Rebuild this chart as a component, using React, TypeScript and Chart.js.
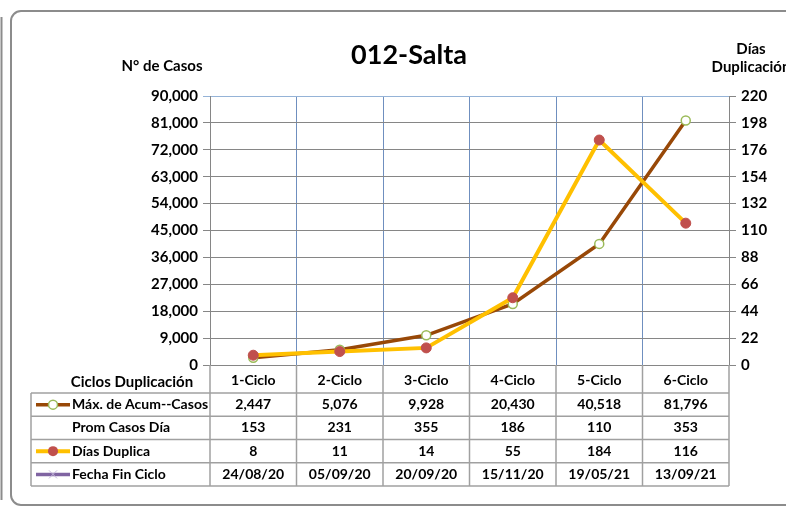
import React, { useEffect, useRef } from "react";
import { Chart, registerables } from "chart.js";

Chart.register(...registerables);

const title = "012-Salta";
const leftAxisTitle = "N° de Casos";
const rightAxisTitle = ["Días", "Duplicación"];
const tableHeader = "Ciclos Duplicación";

const categories = ["1-Ciclo", "2-Ciclo", "3-Ciclo", "4-Ciclo", "5-Ciclo", "6-Ciclo"];
const maxAcumCasos = [2447, 5076, 9928, 20430, 40518, 81796];
const promCasosDia = [153, 231, 355, 186, 110, 353];
const diasDuplica = [8, 11, 14, 55, 184, 116];
const fechaFinCiclo = ["24/08/20", "05/09/20", "20/09/20", "15/11/20", "19/05/21", "13/09/21"];

const seriesNames = ["Máx. de Acum--Casos", "Prom Casos Día", "Días Duplica", "Fecha Fin Ciclo"];

const leftMax = 90000;
const leftStep = 9000;
const rightMax = 220;
const rightStep = 22;

const FONT = "Lato, 'Open Sans', sans-serif";

const fmt = (v: number) => v.toLocaleString("en-US");

const decorPlugin = {
  id: "decor",
  beforeDraw(chart: any) {
    const ctx = chart.ctx;
    ctx.save();
    ctx.fillStyle = "#ffffff";
    ctx.fillRect(0, 0, chart.width, chart.height);
    // outer frame
    ctx.strokeStyle = "#8c8c8c";
    ctx.lineWidth = 2;
    ctx.beginPath();
    ctx.roundRect(11, 11, 800, 494, 10);
    ctx.stroke();
    ctx.beginPath();
    ctx.moveTo(1.5, 17);
    ctx.lineTo(1.5, 500);
    ctx.stroke();
    ctx.restore();
  },
  afterDraw(chart: any) {
    const ctx = chart.ctx;
    const xs = chart.scales.x;
    const area = chart.chartArea;
    ctx.save();
    // titles
    ctx.fillStyle = "#000";
    ctx.textAlign = "center";
    ctx.textBaseline = "middle";
    ctx.font = `bold 27px ${FONT}`;
    ctx.fillText(title, 409, 55);
    ctx.font = `bold 15px ${FONT}`;
    ctx.fillText(leftAxisTitle, 162, 66);
    ctx.fillText(rightAxisTitle[0], 751, 49);
    ctx.fillText(rightAxisTitle[1], 751, 67);

    // table
    const n = categories.length;
    const colW = (area.right - area.left) / n;
    const bottom = area.bottom;
    const rowTop = 393;
    const rowH = 23.25;
    const tableLeft = 31;
    const rows = [
      maxAcumCasos.map(fmt),
      promCasosDia.map(fmt),
      diasDuplica.map(fmt),
      fechaFinCiclo,
    ];

    ctx.strokeStyle = "#a0a0a0";
    ctx.lineWidth = 1.5;
    for (let r = 0; r <= rows.length; r++) {
      const y = rowTop + r * rowH;
      ctx.beginPath();
      ctx.moveTo(tableLeft, y);
      ctx.lineTo(area.right, y);
      ctx.stroke();
    }
    ctx.beginPath();
    ctx.moveTo(tableLeft, rowTop);
    ctx.lineTo(tableLeft, rowTop + rows.length * rowH);
    ctx.stroke();
    for (let i = 0; i <= n; i++) {
      const x = xs.getPixelForValue(Math.min(i, n - 1)) + (i === n ? colW / 2 : -colW / 2);
      ctx.beginPath();
      ctx.moveTo(x, bottom);
      ctx.lineTo(x, rowTop + rows.length * rowH);
      ctx.stroke();
    }

    // header row
    ctx.fillStyle = "#000";
    ctx.font = `bold 14px ${FONT}`;
    ctx.textAlign = "center";
    categories.forEach((c, i) => {
      ctx.fillText(c, xs.getPixelForValue(i), 380);
    });
    ctx.font = `bold 15px ${FONT}`;
    ctx.fillText(tableHeader, 132, 382);

    // rows
    ctx.font = `bold 14px ${FONT}`;
    rows.forEach((vals, r) => {
      const cy = rowTop + r * rowH + rowH / 2;
      ctx.textAlign = "left";
      ctx.fillStyle = "#000";
      ctx.fillText(seriesNames[r], 72, cy);
      ctx.textAlign = "center";
      vals.forEach((v, i) => ctx.fillText(String(v), xs.getPixelForValue(i), cy));
    });

    // legend keys
    const key = (r: number, color: string, width: number) => {
      const cy = rowTop + r * rowH + rowH / 2;
      ctx.strokeStyle = color;
      ctx.lineWidth = width;
      ctx.beginPath();
      ctx.moveTo(36, cy);
      ctx.lineTo(70, cy);
      ctx.stroke();
      return cy;
    };
    let cy = key(0, "#984807", 3.5);
    ctx.beginPath();
    ctx.arc(53, cy, 4.5, 0, Math.PI * 2);
    ctx.fillStyle = "#fff";
    ctx.fill();
    ctx.strokeStyle = "#9BBB59";
    ctx.lineWidth = 1.5;
    ctx.stroke();
    cy = key(2, "#FFC000", 4);
    ctx.beginPath();
    ctx.arc(53, cy, 5, 0, Math.PI * 2);
    ctx.fillStyle = "#C0504D";
    ctx.fill();
    cy = key(3, "#8064A2", 3.5);
    ctx.strokeStyle = "#C6B8DC";
    ctx.lineWidth = 1;
    ctx.beginPath();
    ctx.moveTo(49, cy - 4);
    ctx.lineTo(57, cy + 4);
    ctx.moveTo(57, cy - 4);
    ctx.lineTo(49, cy + 4);
    ctx.stroke();
    ctx.restore();
  },
};

export default function App() {
  const ref = useRef<HTMLCanvasElement | null>(null);
  useEffect(() => {
    document.body.style.margin = "0";
    const canvas = ref.current;
    if (!canvas) return;
    const chart = new Chart(canvas, {
      type: "line",
      data: {
        labels: categories,
        datasets: [
          {
            label: seriesNames[2],
            data: diasDuplica,
            yAxisID: "y1",
            borderColor: "#FFC000",
            borderWidth: 4,
            pointRadius: 5,
            pointBackgroundColor: "#C0504D",
            pointBorderColor: "#C0504D",
            pointBorderWidth: 1,
            tension: 0,
            order: 0,
          },
          {
            label: seriesNames[0],
            data: maxAcumCasos,
            yAxisID: "y",
            borderColor: "#984807",
            borderWidth: 3.5,
            pointRadius: 4.5,
            pointBackgroundColor: "#ffffff",
            pointBorderColor: "#9BBB59",
            pointBorderWidth: 1.5,
            tension: 0,
            order: 1,
          },
        ],
      },
      options: {
        responsive: false,
        animation: false,
        layout: { padding: { top: 96, left: 0, right: 0, bottom: 0 } },
        plugins: {
          legend: { display: false },
          title: { display: false },
          tooltip: { enabled: false },
        },
        scales: {
          x: {
            type: "category",
            offset: true,
            grid: {
              offset: true,
              color: "#6f8fbf",
              lineWidth: 1,
              drawTicks: false,
            },
            border: { color: "#868686", width: 1 },
            ticks: { display: false },
            afterFit: (s: any) => {
              s.height = 143;
            },
          },
          y: {
            position: "left",
            min: 0,
            max: leftMax,
            ticks: {
              stepSize: leftStep,
              padding: 5,
              color: "#000",
              font: { family: FONT, size: 15, weight: "bold" },
              callback: (v: any) => fmt(Number(v)),
            },
            grid: {
              color: (c: any) => (c.tick && c.tick.value === leftMax ? "#95B3D7" : "#868686"),
              lineWidth: 1,
              tickLength: 7,
            },
            border: { color: "#868686", width: 1 },
            afterFit: (s: any) => {
              s.width = 210;
            },
          },
          y1: {
            position: "right",
            min: 0,
            max: rightMax,
            ticks: {
              stepSize: rightStep,
              padding: 5,
              color: "#000",
              font: { family: FONT, size: 15, weight: "bold" },
            },
            grid: {
              drawOnChartArea: false,
              color: "#868686",
              tickLength: 7,
            },
            border: { color: "#868686", width: 1 },
            afterFit: (s: any) => {
              s.width = 57;
            },
          },
        },
      },
      plugins: [decorPlugin],
    } as any);
    return () => chart.destroy();
  }, []);
  return <canvas ref={ref} width={786} height={508} style={{ display: "block" }} />;
}
